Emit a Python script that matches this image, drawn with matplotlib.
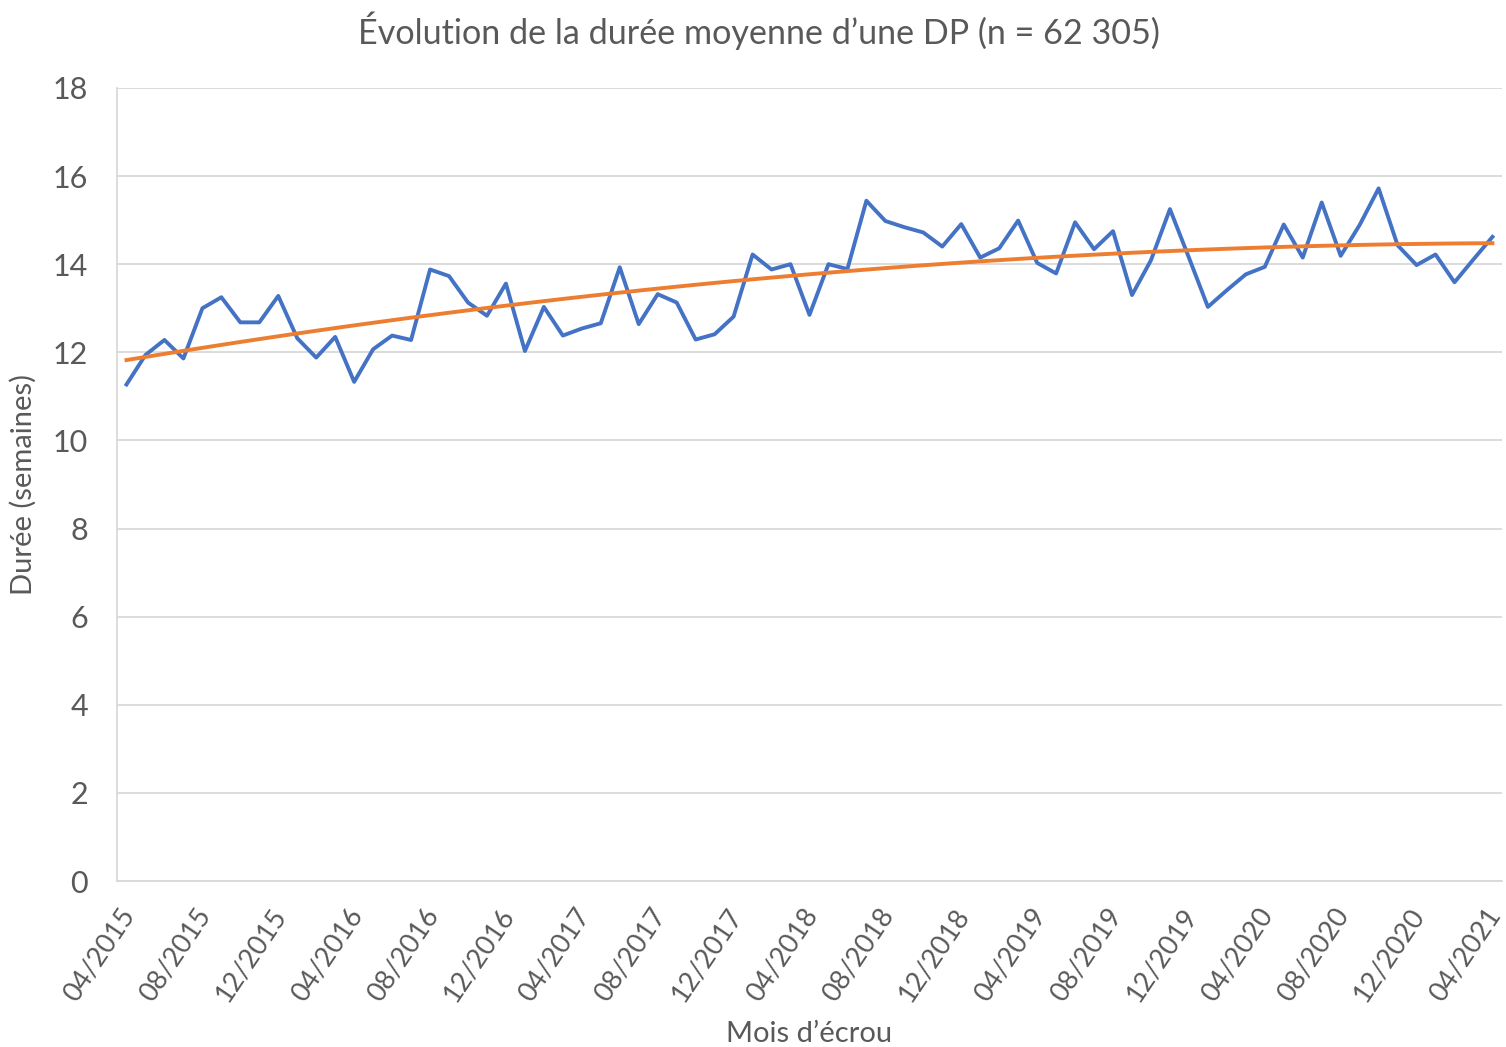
import matplotlib.pyplot as plt
import matplotlib.transforms as mtransforms
import numpy as np

plt.rcParams['font.family'] = ['Lato', 'DejaVu Sans']

# durée moyenne mensuelle (semaines), 04/2015 -> 04/2021
duree = [11.27, 11.94, 12.28, 11.86, 13.00, 13.25, 12.68, 12.68, 13.28, 12.32,
         11.88, 12.35, 11.33, 12.07, 12.38, 12.28, 13.88, 13.73, 13.13, 12.83,
         13.56, 12.03, 13.03, 12.38, 12.54, 12.66, 13.93, 12.64, 13.32, 13.13,
         12.29, 12.41, 12.81, 14.22, 13.88, 14.00, 12.85, 14.00, 13.89, 15.44,
         14.98, 14.84, 14.72, 14.40, 14.91, 14.15, 14.36, 14.99, 14.03, 13.79,
         14.95, 14.34, 14.75, 13.30, 14.09, 15.25, 14.15, 13.03, 13.41, 13.77,
         13.94, 14.90, 14.15, 15.40, 14.19, 14.89, 15.72, 14.43, 13.98, 14.22,
         13.59, 14.11, 14.62]
tick_labels = ['04/2015', '08/2015', '12/2015', '04/2016', '08/2016', '12/2016',
               '04/2017', '08/2017', '12/2017', '04/2018', '08/2018', '12/2018',
               '04/2019', '08/2019', '12/2019', '04/2020', '08/2020', '12/2020',
               '04/2021']

grey = '#595959'
grid = '#d9d9d9'

fig = plt.figure(figsize=(15.06, 10.47), dpi=100)
ax = fig.add_axes([0.0777, 0.1585, 0.9196, 0.7575])

x = np.arange(len(duree)) + 0.5
ax.plot(x, duree, color='#4472C4', lw=2.8, zorder=3, solid_joinstyle='round')

# courbe de tendance polynomiale (ordre 2)
coef = np.polyfit(x, duree, 2)
ax.plot(x, np.polyval(coef, x), color='#ED7D31', lw=2.8, zorder=4)

ax.set_xlim(0, len(duree))
ax.set_ylim(0, 18)
ax.set_yticks(np.arange(0, 19, 2))
ax.set_xticks(np.arange(0, 73, 4))
ax.set_xticklabels(tick_labels, fontsize=19.5)
ax.set_xticks(np.arange(0, 73, 12), minor=True)

ax.grid(axis='y', color=grid, lw=1.3)
ax.grid(axis='x', which='minor', color=grid, lw=1.3)
for s in ['top', 'right']:
    ax.spines[s].set_visible(False)
for s in ['left', 'bottom']:
    ax.spines[s].set_color(grid)
    ax.spines[s].set_linewidth(1.3)
ax.set_axisbelow(True)

ax.tick_params(axis='both', which='both', length=0, colors=grey)
ax.tick_params(axis='y', pad=21, labelsize=22)
ax.tick_params(axis='x', pad=16)

# étiquettes inclinées
shift = mtransforms.ScaledTranslation(2 / 100, 0, fig.dpi_scale_trans)
for lab in ax.get_xticklabels():
    lab.set_rotation(56)
    lab.set_horizontalalignment('right')
    lab.set_verticalalignment('top')
    lab.set_rotation_mode('anchor')
    lab.set_transform(lab.get_transform() + shift)

fig.text(758.5 / 1506, 1 - 31 / 1047,
         'Évolution de la durée moyenne d\u2019une DP (n = 62 305)',
         fontsize=24.6, color=grey, ha='center', va='center')
ax.set_ylabel('Durée (semaines)', fontsize=21, color=grey)
ax.yaxis.set_label_coords(-0.058, 0.5)
ax.set_xlabel('Mois d\u2019écrou', fontsize=21, color=grey)
ax.xaxis.set_label_coords(0.5, -0.176)

fig.savefig('out.png', dpi=100)
